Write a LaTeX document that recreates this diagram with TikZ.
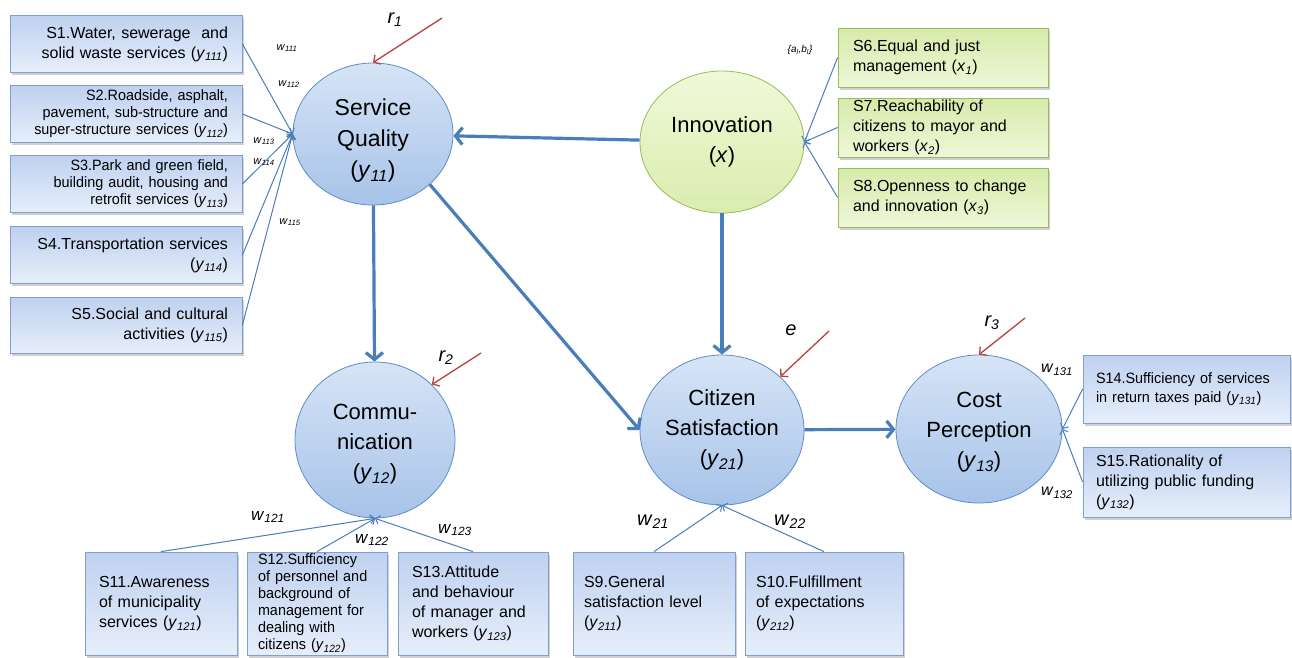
\documentclass[tikz,border=0pt]{standalone}
\usepackage{fontspec}
\setmainfont{Liberation Sans}
\newfontfamily\narrowfont[FakeStretch=0.96]{Liberation Sans}
\usetikzlibrary{arrows.meta,shapes.geometric,shadows}

\definecolor{lineblue}{HTML}{4A7EBB}
\definecolor{arrowred}{HTML}{B8423F}
\definecolor{boxtop}{HTML}{BFD1F0}
\definecolor{boxbot}{HTML}{E6EEFA}
\definecolor{boxborder}{HTML}{7F9FCF}
\definecolor{gtop}{HTML}{D6EBAA}
\definecolor{gbot}{HTML}{EEF7D9}
\definecolor{gborder}{HTML}{9BBB59}
\definecolor{ctop}{HTML}{D6E4F6}
\definecolor{cbot}{HTML}{A7C3E9}
\definecolor{cborder}{HTML}{5F8CC6}
\definecolor{itop}{HTML}{F0F9D8}
\definecolor{ibot}{HTML}{D9EDAE}

\newcommand\yv[1]{\textit{y}\textsubscript{\textit{#1}}}
\newcommand\xv[1]{\textit{x}\textsubscript{\textit{#1}}}
\newcommand\wv[1]{\textit{w}\textsubscript{\textit{#1}}}
\newcommand\lowerby[1]{\rule{0pt}{#1}}

\begin{document}
\begin{tikzpicture}[x=1pt,y=-1pt,
  box/.style={draw=boxborder, line width=0.8pt, top color=boxtop, bottom color=boxbot,
    drop shadow={opacity=0.3, shadow xshift=1.5pt, shadow yshift=-2.5pt, fill=black!60},
    inner sep=0pt, text=black},
  gbox/.style={box, draw=gborder, top color=gtop, bottom color=gbot},
  lbox/.style={box, minimum width=232pt, minimum height=57pt, text width=204pt, align=right},
  nfont/.style={font=\fontsize{16}{20}\selectfont},
  cfont/.style={font=\narrowfont\fontsize{15}{17}\selectfont},
  latent/.style={ellipse, draw=cborder, line width=0.8pt, top color=ctop, bottom color=cbot,
    inner sep=0pt, align=center, text=black, font=\fontsize{22}{30}\selectfont},
  thinarr/.style={draw=lineblue, line width=1pt, -{Straight Barb[length=4pt,width=9pt]}},
  bigarr/.style={draw=lineblue, line width=3.2pt, -{Straight Barb[length=7pt,width=17pt]}},
  redarr/.style={draw=arrowred, line width=1.3pt, -{Straight Barb[length=5pt,width=11pt]}},
  wsmall/.style={inner sep=0pt, font=\fontsize{11}{13}\selectfont},
  wbig/.style={inner sep=0pt, font=\fontsize{17}{20}\selectfont},
  rlab/.style={inner sep=0pt, font=\fontsize{20}{24}\selectfont\itshape}
]
\useasboundingbox[fill=white] (0,0) rectangle (1292,657);

% latent variables
\node[latent, minimum width=160pt, minimum height=142pt, font=\fontsize{23}{31}\selectfont] (sq) at (373,134) {\lowerby{30pt}Service\\Quality\\(\yv{11})};
\node[latent, minimum width=164pt, minimum height=142pt, draw=gborder, top color=itop, bottom color=ibot] (inn) at (722,142) {Innovation\\(\textit{x})};
\node[latent, minimum width=160pt, minimum height=156pt] (comm) at (375,440) {\lowerby{24pt}Commu-\\nication\\(\yv{12})};
\node[latent, minimum width=164pt, minimum height=150pt] (cit) at (722,430) {Citizen\\Satisfaction\\(\yv{21})};
\node[latent, minimum width=166pt, minimum height=148pt] (cost) at (979,429) {\lowerby{22pt}Cost\\Perception\\(\yv{13})};

% left indicator boxes
\node[lbox, nfont] (s1) at (126,44) {S1.Water, sewerage\ \ and\\solid waste services (\yv{111})};
\node[lbox, cfont] (s2) at (126,114) {S2.Roadside, asphalt,\\pavement, sub-structure and\\super-structure services (\yv{112})};
\node[lbox, cfont] (s3) at (126,184) {S3.Park and green field,\\building audit, housing and\\retrofit services (\yv{113})};
\node[lbox, nfont] (s4) at (126,255) {S4.Transportation services\\(\yv{114})};
\node[lbox, nfont, minimum height=56pt] (s5) at (126,325) {S5.Social and cultural\\activities (\yv{115})};

% green boxes
\node[gbox, nfont, minimum width=210pt, minimum height=59pt, text width=180pt, align=left] (s6) at (943,57.5) {S6.Equal and just\\management (\xv{1})};
\node[gbox, nfont, minimum width=210pt, minimum height=59pt, text width=180pt, align=left] (s7) at (943,127.5) {S7.Reachability of\\citizens to mayor and\\workers (\xv{2})};
\node[gbox, nfont, minimum width=210pt, minimum height=59pt, text width=180pt, align=left] (s8) at (943,197.5) {S8.Openness to change\\and innovation (\xv{3})};

% bottom boxes
\node[box, nfont, minimum width=152pt, minimum height=103pt, text width=124pt, align=left] (s11) at (161,603.5) {S11.Awareness\\of municipality\\services (\yv{121})};
\node[box, cfont, minimum width=140pt, minimum height=103pt, text width=118pt, align=left] (s12) at (317,603.5) {S12.Sufficiency\\of personnel and\\background of\\management for\\dealing with\\citizens (\yv{122})};
\node[box, nfont, minimum width=150pt, minimum height=103pt, text width=122pt, align=left] (s13) at (473,603.5) {S13.Attitude\\and behaviour\\of manager and\\workers (\yv{123})};
\node[box, nfont, minimum width=162pt, minimum height=103pt, text width=140pt, align=left] (s9) at (654,603.5) {S9.General\\satisfaction level\\(\yv{211})};
\node[box, nfont, minimum width=158pt, minimum height=103pt, text width=136pt, align=left] (s10) at (824,603.5) {S10.Fulfillment\\of expectations\\(\yv{212})};

% right boxes
\node[box, font=\narrowfont\fontsize{15}{19}\selectfont, minimum width=207pt, minimum height=68pt, text width=181pt, align=left] (s14) at (1186.5,389) {S14.Sufficiency of services\\in return taxes paid (\yv{131})};
\node[box, nfont, minimum width=207pt, minimum height=70pt, text width=181pt, align=left] (s15) at (1186.5,482) {S15.Rationality of\\utilizing public funding\\(\yv{132})};

% structural arrows
\draw[bigarr] (inn) -- (sq);
\draw[bigarr] (sq) -- (comm);
\draw[bigarr] (sq.south east) -- (cit.west);
\draw[bigarr] (inn) -- (cit);
\draw[bigarr] (cit) -- (cost);

% measurement connectors
\foreach \s in {s1,s2,s3,s4,s5} \draw[thinarr] (\s.east) -- (sq.west);
\foreach \s in {s6,s7,s8} \draw[thinarr] (\s.west) -- (inn.east);
\foreach \s in {s11,s12,s13} \draw[thinarr] (\s.north) -- (comm.south);
\foreach \s in {s9,s10} \draw[thinarr] (\s.north) -- (cit.south);
\foreach \s in {s14,s15} \draw[thinarr] (\s.west) -- (cost.east);

% disturbance arrows
\coordinate (r1s) at (442,18);
\coordinate (r2s) at (481,353);
\coordinate (es) at (829,331);
\coordinate (r3s) at (1025,318);
\draw[redarr] (r1s) -- (sq.north);
\draw[redarr] (r2s) -- (comm.north east);
\draw[redarr] (es) -- (cit.north east);
\draw[redarr] (r3s) -- (cost.north);

\node[rlab] (lr1) at (395,20) {r\textsubscript{1}};
\node[rlab] (lr2) at (446,358) {r\textsubscript{2}};
\node[rlab] (le) at (791,330) {e};
\node[rlab] (lr3) at (992,323) {r\textsubscript{3}};

% weights
\node[wsmall] (w111) at (287,48) {\wv{111}};
\node[wsmall] (w112) at (289,84) {\wv{112}};
\node[wsmall] (w113) at (264,141) {\wv{113}};
\node[wsmall] (w114) at (264,162) {\wv{114}};
\node[wsmall] (w115) at (290,222) {\wv{115}};
\node[inner sep=0pt, font=\fontsize{10}{12}\selectfont\itshape] (ab) at (800,50) {\{a\textsubscript{l},b\textsubscript{l}\}};
\node[wbig] (w121) at (268,517) {\wv{121}};
\node[wbig] (w122) at (372,540) {\wv{122}};
\node[wbig] (w123) at (455,530) {\wv{123}};
\node[inner sep=0pt, font=\fontsize{20}{24}\selectfont] (w21) at (653,522) {\wv{21}};
\node[inner sep=0pt, font=\fontsize{20}{24}\selectfont] (w22) at (790,522) {\wv{22}};
\node[inner sep=0pt, font=\fontsize{16}{20}\selectfont] (w131) at (1057,370) {\wv{131}};
\node[inner sep=0pt, font=\fontsize{16}{20}\selectfont] (w132) at (1057,493) {\wv{132}};
\end{tikzpicture}
\end{document}
